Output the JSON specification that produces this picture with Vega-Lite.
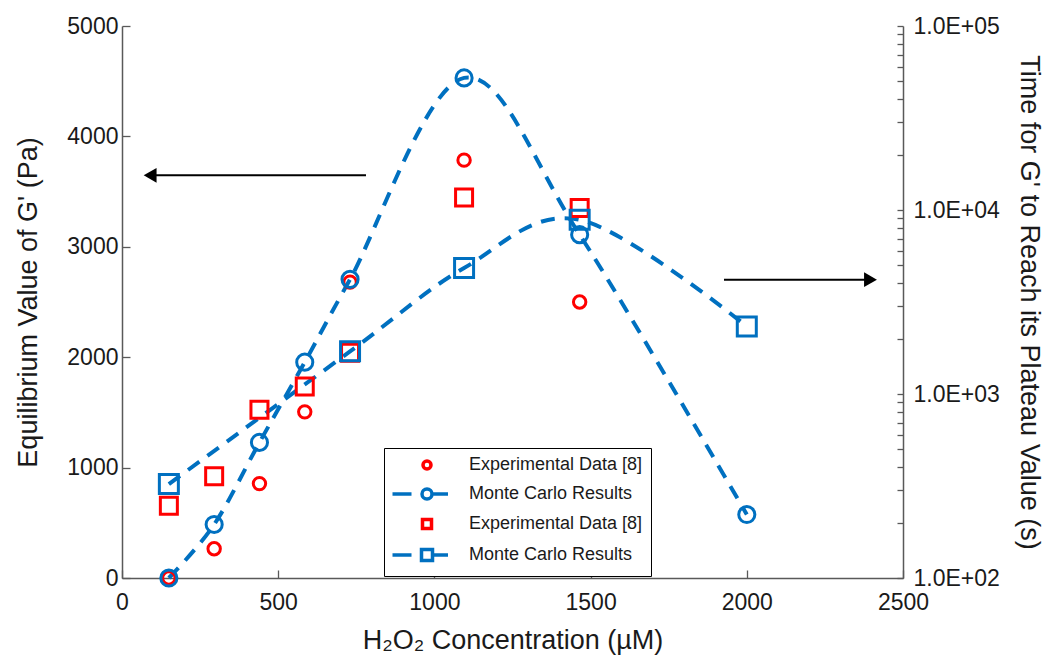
{
  "$schema": "https://vega.github.io/schema/vega-lite/v6.json",
  "width": 781,
  "height": 552,
  "autosize": {"type": "none"},
  "padding": {"left": 122, "top": 26, "right": 151, "bottom": 85},
  "background": "white",
  "config": {
    "font": "Liberation Sans",
    "view": {"stroke": null},
    "axis": {
      "grid": false,
      "labelFlush": false,
      "domainColor": "#595959",
      "domainWidth": 1.5,
      "tickColor": "#595959",
      "tickWidth": 1.3,
      "labelColor": "#1a1a1a",
      "titleColor": "#1a1a1a",
      "labelFont": "Liberation Sans",
      "titleFont": "Liberation Sans",
      "labelFontSize": 23,
      "titleFontSize": 27,
      "titleFontWeight": "normal"
    },
    "legend": {
      "orient": "none",
      "legendX": 262,
      "legendY": 422,
      "direction": "vertical",
      "padding": 8,
      "strokeColor": "black",
      "fillColor": "white",
      "symbolSize": 100,
      "symbolStrokeWidth": 3.5,
      "symbolOffset": 26,
      "labelOffset": 33,
      "rowPadding": 6,
      "labelFontSize": 18,
      "labelColor": "#1a1a1a",
      "labelFont": "Liberation Sans",
      "labelLimit": 400
    }
  },
  "datasets": {
    "g": [
      {"x": 150, "y": 0, "s": "A"},
      {"x": 295, "y": 265, "s": "A"},
      {"x": 440, "y": 855, "s": "A"},
      {"x": 585, "y": 1505, "s": "A"},
      {"x": 730, "y": 2680, "s": "A"},
      {"x": 1095, "y": 3785, "s": "A"},
      {"x": 1465, "y": 2500, "s": "A"},
      {"x": 150, "y": 0, "s": "B"},
      {"x": 295, "y": 485, "s": "B"},
      {"x": 440, "y": 1228, "s": "B"},
      {"x": 585, "y": 1955, "s": "B"},
      {"x": 730, "y": 2705, "s": "B"},
      {"x": 1095, "y": 4530, "s": "B"},
      {"x": 1465, "y": 3110, "s": "B"},
      {"x": 2000, "y": 575, "s": "B"}
    ],
    "t": [
      {"x": 150, "y": 247, "s": "C"},
      {"x": 295, "y": 357, "s": "C"},
      {"x": 440, "y": 822, "s": "C"},
      {"x": 585, "y": 1100, "s": "C"},
      {"x": 730, "y": 1675, "s": "C"},
      {"x": 1095, "y": 11700, "s": "C"},
      {"x": 1465, "y": 10250, "s": "C"},
      {"x": 150, "y": 324, "s": "D"},
      {"x": 730, "y": 1705, "s": "D"},
      {"x": 1095, "y": 4840, "s": "D"},
      {"x": 1465, "y": 8850, "s": "D"},
      {"x": 2000, "y": 2330, "s": "D"}
    ],
    "arrows": [
      {"x": 90, "x2": 781, "y": 3647, "dir": "left"},
      {"x": 1927, "x2": 2396, "y": 2702, "dir": "right"}
    ]
  },
  "layer": [
    {
      "encoding": {
        "x": {
          "field": "x", "type": "quantitative",
          "scale": {"domain": [0, 2500], "nice": false, "zero": false},
          "axis": {
            "title": "H₂O₂ Concentration (µM)",
            "values": [0, 500, 1000, 1500, 2000, 2500],
            "format": "d",
            "tickSize": -8,
            "labelPadding": 21,
            "titlePadding": 13
          }
        },
        "y": {
          "field": "y", "type": "quantitative",
          "scale": {"domain": [0, 5000], "nice": false, "zero": false},
          "axis": {
            "orient": "left",
            "title": "Equilibrium Value of G' (Pa)",
            "values": [0, 1000, 2000, 3000, 4000, 5000],
            "format": "d",
            "tickSize": -8,
            "labelPadding": 12,
            "titlePadding": 24
          }
        }
      },
      "layer": [
        {
          "data": {"name": "g"},
          "transform": [{"filter": "datum.s == 'B'"}],
          "mark": {"type": "line", "interpolate": "cardinal", "color": "#0070C0", "strokeWidth": 4, "strokeDash": [14, 10]}
        },
        {
          "data": {"name": "g"},
          "transform": [{"filter": "datum.s == 'A'"}],
          "mark": {"type": "point", "shape": "circle", "filled": false, "color": "#FF0000", "strokeWidth": 3, "opacity": 1, "size": 154}
        },
        {
          "data": {"name": "g"},
          "transform": [{"filter": "datum.s == 'B'"}],
          "mark": {"type": "point", "shape": "circle", "filled": false, "color": "#0070C0", "strokeWidth": 3, "opacity": 1, "size": 260}
        },
        {
          "data": {"name": "g"},
          "transform": [{"filter": "false"}],
          "mark": {"type": "point", "filled": false, "strokeWidth": 3.5, "opacity": 1},
          "encoding": {
            "shape": {
              "field": "s", "type": "nominal", "title": null,
              "scale": {"domain": ["A", "B", "C", "D"], "range": [
                "M-0.8,0A0.8,0.8 0 1,0 0.8,0A0.8,0.8 0 1,0 -0.8,0Z",
                "M-6.9,0L-3.1,0M1,0L4.2,0M-1,0A1,1 0 1,0 1,0A1,1 0 1,0 -1,0Z",
                "M-0.9,-0.9H0.9V0.9H-0.9Z",
                "M-6.9,0L-3.1,0M1.1,0L4.2,0M-1.1,-1.1H1.1V1.1H-1.1Z"
              ]},
              "legend": {"labelExpr": "(datum.value == 'A' || datum.value == 'C') ? 'Experimental Data [8]' : 'Monte Carlo Results'"}
            },
            "stroke": {
              "field": "s", "type": "nominal", "title": null,
              "scale": {"domain": ["A", "B", "C", "D"], "range": ["#FF0000", "#0070C0", "#FF0000", "#0070C0"]},
              "legend": {"labelExpr": "(datum.value == 'A' || datum.value == 'C') ? 'Experimental Data [8]' : 'Monte Carlo Results'"}
            }
          }
        },
        {
          "data": {"name": "arrows"},
          "mark": {"type": "rule", "color": "black", "strokeWidth": 2},
          "encoding": {"x2": {"field": "x2"}}
        },
        {
          "data": {"name": "arrows"},
          "transform": [{"filter": "datum.dir == 'left'"}],
          "mark": {"type": "point", "shape": "triangle-left", "filled": true, "color": "black", "size": 220, "opacity": 1},
          "encoding": {}
        },
        {
          "data": {"name": "arrows"},
          "transform": [{"filter": "datum.dir == 'right'"}],
          "mark": {"type": "point", "shape": "triangle-right", "filled": true, "color": "black", "size": 220, "opacity": 1},
          "encoding": {"x": {"field": "x2", "type": "quantitative"}}
        }
      ]
    },
    {
      "data": {"name": "t"},
      "encoding": {
        "x": {
          "field": "x", "type": "quantitative",
          "scale": {"domain": [0, 2500], "nice": false, "zero": false},
          "axis": {
            "title": "H₂O₂ Concentration (µM)",
            "values": [0, 500, 1000, 1500, 2000, 2500],
            "format": "d",
            "tickSize": -8,
            "labelPadding": 21,
            "titlePadding": 13
          }
        },
        "y": {
          "field": "y", "type": "quantitative",
          "scale": {"type": "log", "domain": [100, 100000], "nice": false},
          "axis": {
            "orient": "right",
            "title": "Time for G' to Reach its Plateau Value (s)",
            "values": [100, 200, 300, 400, 500, 600, 700, 800, 900, 1000, 2000, 3000, 4000, 5000, 6000, 7000, 8000, 9000, 10000, 20000, 30000, 40000, 50000, 60000, 70000, 80000, 90000, 100000],
            "labelExpr": "abs(log(datum.value)/LN10 - round(log(datum.value)/LN10)) < 0.000001 ? '1.0E+0' + round(log(datum.value)/LN10) : ''",
            "tickSize": -6,
            "labelPadding": 16,
            "titlePadding": 15
          }
        }
      },
      "layer": [
        {
          "transform": [{"filter": "datum.s == 'D'"}],
          "mark": {"type": "line", "interpolate": "cardinal", "color": "#0070C0", "strokeWidth": 4, "strokeDash": [14, 10]}
        },
        {
          "transform": [{"filter": "datum.s == 'C'"}],
          "mark": {"type": "point", "shape": "square", "filled": false, "color": "#FF0000", "strokeWidth": 3, "opacity": 1, "size": 289}
        },
        {
          "transform": [{"filter": "datum.s == 'D'"}],
          "mark": {"type": "point", "shape": "square", "filled": false, "color": "#0070C0", "strokeWidth": 3, "opacity": 1, "size": 361}
        }
      ]
    }
  ],
  "resolve": {"scale": {"y": "independent"}, "axis": {"y": "independent"}}
}
